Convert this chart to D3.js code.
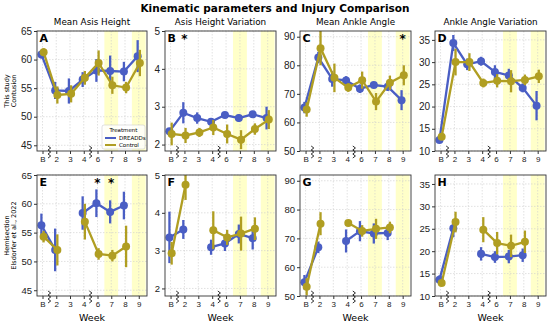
<!DOCTYPE html>
<html lang="en">
<head>
  <meta charset="UTF-8" />
  <title>Kinematic parameters and Injury Comparison</title>
  <script src="https://d3js.org/d3.v7.min.js"></script>
  <style>
    body { margin: 0; background: #fff; }
    svg { font-family: "DejaVu Sans", sans-serif; display: block; }
  </style>
</head>
<body>
<svg id="chart" width="550" height="324"></svg>
<script>
  // x categories
  const weeks = ["B", "2", "3", "4", "6", "7", "8", "9"];

  // A - Mean Asis Height, contusion
  const aDread    = [60.9, 54.6, 54.5, 56.5, 58.1, 58.0, 57.9, 60.6];
  const aDreadErr = [0.7, 1.5, 2.2, 1.3, 2.0, 2.7, 1.7, 2.8];
  const aCtrl     = [61.3, 53.8, 54.0, 56.8, 59.4, 55.5, 55.1, 59.4];
  const aCtrlErr  = [0.7, 1.5, 1.5, 1.2, 2.2, 1.5, 1.0, 2.3];
  // B - Asis Height Variation, contusion
  const bDread    = [2.35, 2.84, 2.70, 2.60, 2.78, 2.70, 2.80, 2.70];
  const bDreadErr = [0.08, 0.28, 0.15, 0.10, 0.08, 0.10, 0.08, 0.30];
  const bCtrl     = [2.28, 2.24, 2.32, 2.45, 2.28, 2.13, 2.41, 2.66];
  const bCtrlErr  = [0.30, 0.20, 0.12, 0.20, 0.25, 0.25, 0.15, 0.25];
  // C - Mean Ankle Angle, contusion
  const cDread    = [65.2, 82.7, 75.2, 74.7, 71.8, 73.1, 72.5, 67.8];
  const cDreadErr = [2.0, 2.0, 2.7, 1.5, 1.5, 1.0, 1.5, 3.5];
  const cCtrl     = [64.5, 86.0, 75.6, 72.2, 74.8, 67.3, 73.9, 76.5];
  const cCtrlErr  = [2.5, 6.0, 5.0, 1.5, 3.0, 3.0, 2.5, 3.5];
  // D - Ankle Angle Variation, contusion
  const dDread    = [12.5, 34.3, 29.5, 30.2, 27.8, 27.0, 24.2, 20.2];
  const dDreadErr = [0.5, 1.8, 1.3, 1.0, 1.5, 1.5, 1.0, 3.3];
  const dCtrl     = [13.2, 30.0, 30.0, 25.3, 25.8, 25.7, 26.0, 26.8];
  const dCtrlErr  = [0.5, 3.0, 2.0, 1.0, 1.5, 2.5, 1.2, 1.5];
  // E - Mean Asis Height, hemisection
  const eDread    = [56.3, 52.0, null, 58.4, 60.1, 58.6, 59.7, null];
  const eDreadErr = [2.0, 3.7, null, 2.9, 2.4, 2.0, 2.4, null];
  const eCtrl     = [54.3, 52.0, null, 56.9, 51.3, 51.0, 52.6, null];
  const eCtrlErr  = [1.0, 2.7, null, 3.1, 1.0, 1.0, 3.6, null];
  // F - Asis Height Variation, hemisection
  const fDread    = [3.35, 3.56, null, 3.09, 3.19, 3.44, 3.33, null];
  const fDreadErr = [0.68, 0.25, null, 0.20, 0.20, 0.25, 0.30, null];
  const fCtrl     = [2.93, 4.74, null, 3.54, 3.35, 3.45, 3.58, null];
  const fCtrlErr  = [0.30, 0.40, null, 0.50, 0.20, 0.45, 0.30, null];
  // G - Mean Ankle Angle, hemisection
  const gDread    = [54.8, 66.9, null, 69.1, 72.5, 71.7, 71.9, null];
  const gDreadErr = [2.5, 2.0, null, 4.0, 3.5, 3.5, 2.5, null];
  const gCtrl     = [53.2, 75.1, null, 75.3, 72.6, 73.3, 73.8, null];
  const gCtrlErr  = [3.0, 4.0, null, 1.0, 2.0, 3.5, 2.0, null];
  // H - Ankle Angle Variation, hemisection
  const hDread    = [13.6, 25.1, null, 19.4, 18.7, 18.8, 19.1, null];
  const hDreadErr = [1.0, 2.0, null, 1.5, 1.3, 1.5, 1.5, null];
  const hCtrl     = [12.9, 26.5, null, 24.8, 21.8, 21.2, 22.1, null];
  const hCtrlErr  = [0.5, 2.3, null, 2.8, 2.5, 2.5, 2.5, null];

  // y tick labels per column
  const asisTicks = [45, 50, 55, 60, 65];
  const varTicks = [2, 3, 4, 5];
  const ankleTicks = [50, 60, 70, 80, 90];
  const ankleVarTicks = [10, 15, 20, 25, 30, 35];

  const titles = ["Mean Asis Height", "Asis Height Variation", "Mean Ankle Angle", "Ankle Angle Variation"];
  const dreadColor = "#4a5ec4";
  const ctrlColor = "#b09e22";

  const panels = [
    {id: "A", col: 0, row: 0, y: [44, 65], ticks: asisTicks, d: aDread, de: aDreadErr, c: aCtrl, ce: aCtrlErr, stars: []},
    {id: "B", col: 1, row: 0, y: [1.83, 5], ticks: varTicks, d: bDread, de: bDreadErr, c: bCtrl, ce: bCtrlErr, stars: [1]},
    {id: "C", col: 2, row: 0, y: [50, 92], ticks: ankleTicks, d: cDread, de: cDreadErr, c: cCtrl, ce: cCtrlErr, stars: [7]},
    {id: "D", col: 3, row: 0, y: [10, 37], ticks: ankleVarTicks, d: dDread, de: dDreadErr, c: dCtrl, ce: dCtrlErr, stars: []},
    {id: "E", col: 0, row: 1, y: [44, 65], ticks: asisTicks, d: eDread, de: eDreadErr, c: eCtrl, ce: eCtrlErr, stars: [4, 5]},
    {id: "F", col: 1, row: 1, y: [1.8, 5], ticks: varTicks, d: fDread, de: fDreadErr, c: fCtrl, ce: fCtrlErr, stars: []},
    {id: "G", col: 2, row: 1, y: [50, 92], ticks: ankleTicks, d: gDread, de: gDreadErr, c: gCtrl, ce: gCtrlErr, stars: []},
    {id: "H", col: 3, row: 1, y: [10, 37], ticks: ankleVarTicks, d: hDread, de: hDreadErr, c: hCtrl, ce: hCtrlErr, stars: []}
  ];

  const colX = [[37, 147], [165, 276], [300, 411], [435, 546]];
  const rowY = [[31, 151], [175, 296]];

  const svg = d3.select("#chart");

  svg.append("text")
    .attr("x", 275).attr("y", 12)
    .attr("text-anchor", "middle")
    .attr("font-size", 10.5).attr("font-weight", "bold")
    .text("Kinematic parameters and Injury Comparison");

  // row labels
  const rowLabels = [["This study", "Contusion"], ["Hemisection", "Elsdorfer et al., 2022"]];
  rowLabels.forEach((lines, r) => {
    const cy = (rowY[r][0] + rowY[r][1]) / 2;
    const t = svg.append("text")
      .attr("transform", `translate(9,${cy}) rotate(-90)`)
      .attr("text-anchor", "middle")
      .attr("font-size", 6.5);
    lines.forEach((l, i) => t.append("tspan").attr("x", 0).attr("dy", i === 0 ? 0 : 7).text(l));
  });

  panels.forEach(p => {
    const [x0, x1] = colX[p.col];
    const [y0, y1] = rowY[p.row];
    const x = d3.scaleLinear().domain([-0.4, 7.6]).range([x0, x1]);
    const y = d3.scaleLinear().domain(p.y).range([y1, y0]);
    const g = svg.append("g");

    const clipId = "clip" + p.id;
    g.append("clipPath").attr("id", clipId)
      .append("rect").attr("x", x0).attr("y", y0).attr("width", x1 - x0).attr("height", y1 - y0);

    // yellow bands at weeks 7 and 9
    [5, 7].forEach(i => {
      g.append("rect")
        .attr("x", x(i - 0.5)).attr("y", y0)
        .attr("width", x(i + 0.5) - x(i - 0.5)).attr("height", y1 - y0)
        .attr("fill", "#ffff88").attr("opacity", 0.45)
        .attr("clip-path", `url(#${clipId})`);
    });

    // grid
    g.append("g").selectAll("line").data(p.ticks).join("line")
      .attr("x1", x0).attr("x2", x1).attr("y1", d => y(d)).attr("y2", d => y(d))
      .attr("stroke", "#ccc").attr("stroke-width", 0.6).attr("stroke-dasharray", "1.5,1.5");
    g.append("g").selectAll("line").data(weeks).join("line")
      .attr("x1", (d, i) => x(i)).attr("x2", (d, i) => x(i)).attr("y1", y0).attr("y2", y1)
      .attr("stroke", "#ccc").attr("stroke-width", 0.6).attr("stroke-dasharray", "1.5,1.5");

    // axes
    const xAxis = g.append("g").attr("transform", `translate(0,${y1})`)
      .call(d3.axisBottom(x).tickValues(d3.range(weeks.length)).tickFormat(i => weeks[i]).tickSize(3).tickSizeOuter(0));
    xAxis.select(".domain").remove();
    xAxis.selectAll("text").attr("font-size", 8).attr("dy", "0.75em").attr("y", 5).attr("fill", "#222");
    xAxis.selectAll("line").attr("stroke", "#333");

    const yAxis = g.append("g").attr("transform", `translate(${x0},0)`)
      .call(d3.axisLeft(y).tickValues(p.ticks).tickFormat(d3.format("d")).tickSize(3).tickSizeOuter(0));
    yAxis.select(".domain").remove();
    yAxis.selectAll("text").attr("font-size", p.row === 0 ? 10 : 9.5).attr("x", -5).attr("fill", "#222");
    yAxis.selectAll("line").attr("stroke", "#333");

    // series
    const series = [
      {v: p.d, e: p.de, color: dreadColor, off: -0.08},
      {v: p.c, e: p.ce, color: ctrlColor, off: 0.08}
    ];
    const plot = g.append("g").attr("clip-path", `url(#${clipId})`);
    series.forEach(s => {
      const pts = s.v.map((v, i) => ({i, v, e: s.e[i]}));
      const line = d3.line()
        .defined(d => d.v !== null)
        .x(d => x(d.i + s.off)).y(d => y(d.v));
      plot.append("path").datum(pts)
        .attr("d", line).attr("fill", "none")
        .attr("stroke", s.color).attr("stroke-width", 2.3);
      const valid = pts.filter(d => d.v !== null);
      plot.append("g").selectAll("line").data(valid).join("line")
        .attr("x1", d => x(d.i + s.off)).attr("x2", d => x(d.i + s.off))
        .attr("y1", d => y(d.v - d.e)).attr("y2", d => y(d.v + d.e))
        .attr("stroke", s.color).attr("stroke-width", 2.3);
      plot.append("g").selectAll("circle").data(valid).join("circle")
        .attr("cx", d => x(d.i + s.off)).attr("cy", d => y(d.v))
        .attr("r", 4).attr("fill", s.color);
    });

    // frame
    g.append("rect")
      .attr("x", x0).attr("y", y0).attr("width", x1 - x0).attr("height", y1 - y0)
      .attr("fill", "none").attr("stroke", "#333").attr("stroke-width", 0.9);

    // axis break marks
    [0.5, 3.5].forEach(b => {
      const bx = x(b);
      const pts = [];
      for (let k = 0; k <= 6; k++) pts.push([bx + (k % 2 === 0 ? -1.3 : 1.3), y1 - 5 + k * 2]);
      g.append("path")
        .attr("d", d3.line()(pts))
        .attr("fill", "none").attr("stroke", "#111").attr("stroke-width", 0.9);
    });

    // panel letter
    g.append("text")
      .attr("x", x0 + 2.5).attr("y", y0 + 11)
      .attr("font-size", 11).attr("font-weight", "bold")
      .text(p.id);

    // significance stars
    p.stars.forEach(i => {
      g.append("text")
        .attr("x", x(i)).attr("y", y0 + 12)
        .attr("text-anchor", "middle")
        .attr("font-size", 12).attr("font-weight", "bold")
        .text("*");
    });

    if (p.row === 0) {
      g.append("text")
        .attr("x", (x0 + x1) / 2).attr("y", y0 - 6)
        .attr("text-anchor", "middle").attr("font-size", 8.8)
        .text(titles[p.col]);
    } else {
      g.append("text")
        .attr("x", (x0 + x1) / 2).attr("y", 321)
        .attr("text-anchor", "middle").attr("font-size", 9.5)
        .text("Week");
    }

    // legend in panel A
    if (p.id === "A") {
      const lg = g.append("g").attr("transform", `translate(${x1 - 45},${y1 - 26})`);
      lg.append("rect").attr("width", 43).attr("height", 24).attr("rx", 2)
        .attr("fill", "#fff").attr("fill-opacity", 0.8)
        .attr("stroke", "#ccc").attr("stroke-width", 0.6);
      lg.append("text").attr("x", 21.5).attr("y", 7).attr("text-anchor", "middle")
        .attr("font-size", 5.5).text("Treatment");
      [["DREADDs", dreadColor], ["Control", ctrlColor]].forEach(([name, color], k) => {
        const ly = 13 + k * 7;
        lg.append("line").attr("x1", 3).attr("x2", 14).attr("y1", ly).attr("y2", ly)
          .attr("stroke", color).attr("stroke-width", 2);
        lg.append("text").attr("x", 17).attr("y", ly + 2).attr("font-size", 5.5).text(name);
      });
    }
  });
</script>
</body>
</html>
